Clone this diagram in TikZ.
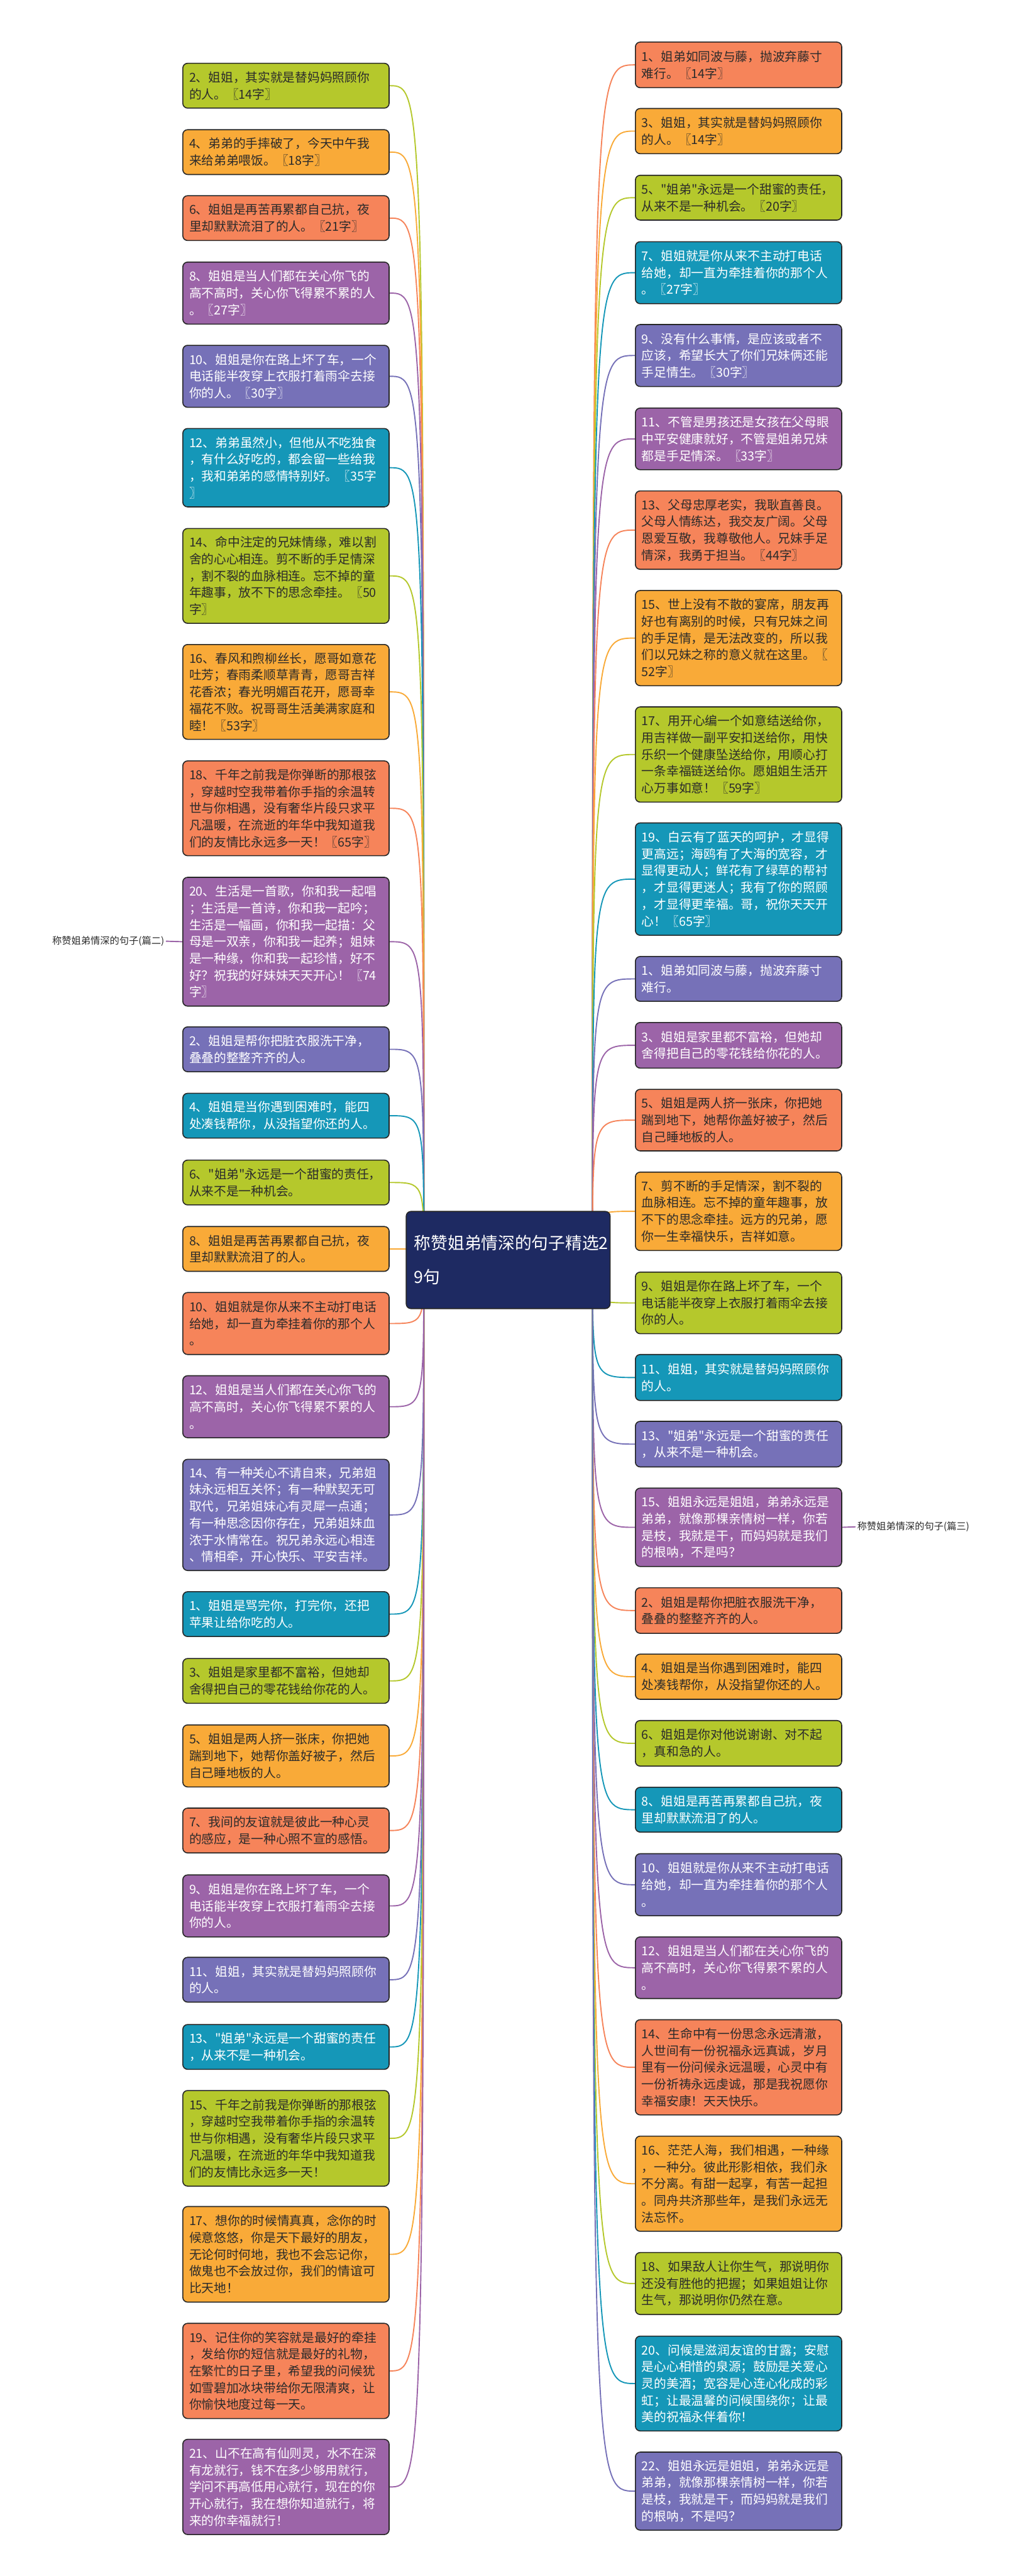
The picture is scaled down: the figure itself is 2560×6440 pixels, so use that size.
\documentclass[tikz,border=0pt]{standalone}
\usepackage{fontspec}
\newfontfamily\cjk{Noto Sans CJK SC}
\usetikzlibrary{backgrounds}

\definecolor{limeleaf}{HTML}{B5C82C}
\definecolor{orangeleaf}{HTML}{F9AA38}
\definecolor{coralleaf}{HTML}{F6845A}
\definecolor{purpleleaf}{HTML}{9C64A8}
\definecolor{violetleaf}{HTML}{7671B8}
\definecolor{tealleaf}{HTML}{1597B8}
\definecolor{titlenavy}{HTML}{1E2A62}
\definecolor{inkdark}{HTML}{2B2B2B}

\tikzset{
  leaf/.style={draw=black!85, line width=2.5pt, rounded corners=12pt, anchor=north west,
    text width=484pt, inner xsep=16pt, inner ysep=0pt, align=left,
    font=\cjk\fontsize{31}{42}\selectfont},
  limebox/.style={leaf, fill=limeleaf, text=inkdark},
  orangebox/.style={leaf, fill=orangeleaf, text=inkdark},
  coralbox/.style={leaf, fill=coralleaf, text=inkdark},
  purplebox/.style={leaf, fill=purpleleaf, text=white},
  violetbox/.style={leaf, fill=violetleaf, text=white},
  tealbox/.style={leaf, fill=tealleaf, text=white},
  parttext/.style={text=inkdark, font=\cjk\fontsize{24}{30}\selectfont, inner sep=4pt},
  link/.style={line width=3pt},
}

\begin{document}
\begin{tikzpicture}[x=1pt,y=-1pt]
\useasboundingbox (0,0) rectangle (2560,6440);

% centre
\node[fill=titlenavy, text=white, rounded corners=12pt, draw=black!85, line width=2.5pt,
  text width=470pt, inner xsep=20pt, inner ysep=0pt, minimum height=243pt, align=left,
  font=\cjk\fontsize{42}{84}\selectfont] (title) at (1271,3150) {称赞姐弟情深的句子精选2\\9句};
\coordinate (hubL) at (1060,3150);
\coordinate (hubR) at (1482,3150);

% left column
\node[limebox, minimum height=112pt] (l1) at (456,157) {2、姐姐，其实就是替妈妈照顾你\\的人。〖14字〗};
\node[orangebox, minimum height=112pt] (l2) at (456,323) {4、弟弟的手摔破了，今天中午我\\来给弟弟喂饭。〖18字〗};
\node[coralbox, minimum height=112pt] (l3) at (456,488) {6、姐姐是再苦再累都自己抗，夜\\里却默默流泪了的人。〖21字〗};
\node[purplebox, minimum height=155pt] (l4) at (456,654) {8、姐姐是当人们都在关心你飞的\\高不高时，关心你飞得累不累的人\\。〖27字〗};
\node[violetbox, minimum height=155pt] (l5) at (456,862) {10、姐姐是你在路上坏了车，一个\\电话能半夜穿上衣服打着雨伞去接\\你的人。〖30字〗};
\node[tealbox, minimum height=196pt] (l6) at (456,1070) {12、弟弟虽然小，但他从不吃独食\\，有什么好吃的，都会留一些给我\\，我和弟弟的感情特别好。〖35字\\〗};
\node[limebox, minimum height=237pt] (l7) at (456,1320) {14、命中注定的兄妹情缘，难以割\\舍的心心相连。剪不断的手足情深\\，割不裂的血脉相连。忘不掉的童\\年趣事，放不下的思念牵挂。〖50\\字〗};
\node[orangebox, minimum height=237pt] (l8) at (456,1610) {16、春风和煦柳丝长，愿哥如意花\\吐芳；春雨柔顺草青青，愿哥吉祥\\花香浓；春光明媚百花开，愿哥幸\\福花不败。祝哥哥生活美满家庭和\\睦！〖53字〗};
\node[coralbox, minimum height=237pt] (l9) at (456,1901) {18、千年之前我是你弹断的那根弦\\，穿越时空我带着你手指的余温转\\世与你相遇，没有奢华片段只求平\\凡温暖，在流逝的年华中我知道我\\们的友情比永远多一天！〖65字〗};
\node[purplebox, minimum height=322pt] (l10) at (456,2192) {20、生活是一首歌，你和我一起唱\\；生活是一首诗，你和我一起吟；\\生活是一幅画，你和我一起描：父\\母是一双亲，你和我一起养；姐妹\\是一种缘，你和我一起珍惜，好不\\好？祝我的好妹妹天天开心！〖74\\字〗};
\node[violetbox, minimum height=112pt] (l11) at (456,2566) {2、姐姐是帮你把脏衣服洗干净，\\叠叠的整整齐齐的人。};
\node[tealbox, minimum height=112pt] (l12) at (456,2732) {4、姐姐是当你遇到困难时，能四\\处凑钱帮你，从没指望你还的人。};
\node[limebox, minimum height=112pt] (l13) at (456,2899) {6、"姐弟"永远是一个甜蜜的责任，\\从来不是一种机会。};
\node[orangebox, minimum height=112pt] (l14) at (456,3065) {8、姐姐是再苦再累都自己抗，夜\\里却默默流泪了的人。};
\node[coralbox, minimum height=155pt] (l15) at (456,3230) {10、姐姐就是你从来不主动打电话\\给她，却一直为牵挂着你的那个人\\。};
\node[purplebox, minimum height=155pt] (l16) at (456,3438) {12、姐姐是当人们都在关心你飞的\\高不高时，关心你飞得累不累的人\\。};
\node[violetbox, minimum height=278pt] (l17) at (456,3647) {14、有一种关心不请自来，兄弟姐\\妹永远相互关怀；有一种默契无可\\取代，兄弟姐妹心有灵犀一点通；\\有一种思念因你存在，兄弟姐妹血\\浓于水情常在。祝兄弟永远心相连\\、情相牵，开心快乐、平安吉祥。};
\node[tealbox, minimum height=112pt] (l18) at (456,3978) {1、姐姐是骂完你，打完你，还把\\苹果让给你吃的人。};
\node[limebox, minimum height=112pt] (l19) at (456,4145) {3、姐姐是家里都不富裕，但她却\\舍得把自己的零花钱给你花的人。};
\node[orangebox, minimum height=155pt] (l20) at (456,4311) {5、姐姐是两人挤一张床，你把她\\踹到地下，她帮你盖好被子，然后\\自己睡地板的人。};
\node[coralbox, minimum height=112pt] (l21) at (456,4519) {7、我间的友谊就是彼此一种心灵\\的感应，是一种心照不宣的感悟。};
\node[purplebox, minimum height=155pt] (l22) at (456,4686) {9、姐姐是你在路上坏了车，一个\\电话能半夜穿上衣服打着雨伞去接\\你的人。};
\node[violetbox, minimum height=112pt] (l23) at (456,4892) {11、姐姐，其实就是替妈妈照顾你\\的人。};
\node[tealbox, minimum height=112pt] (l24) at (456,5060) {13、"姐弟"永远是一个甜蜜的责任\\，从来不是一种机会。};
\node[limebox, minimum height=239pt] (l25) at (456,5225) {15、千年之前我是你弹断的那根弦\\，穿越时空我带着你手指的余温转\\世与你相遇，没有奢华片段只求平\\凡温暖，在流逝的年华中我知道我\\们的友情比永远多一天！};
\node[orangebox, minimum height=239pt] (l26) at (456,5515) {17、想你的时候情真真，念你的时\\候意悠悠，你是天下最好的朋友，\\无论何时何地，我也不会忘记你，\\做鬼也不会放过你，我们的情谊可\\比天地！};
\node[coralbox, minimum height=238pt] (l27) at (456,5807) {19、记住你的笑容就是最好的牵挂\\，发给你的短信就是最好的礼物，\\在繁忙的日子里，希望我的问候犹\\如雪碧加冰块带给你无限清爽，让\\你愉快地度过每一天。};
\node[purplebox, minimum height=238pt] (l28) at (456,6097) {21、山不在高有仙则灵，水不在深\\有龙就行，钱不在多少够用就行，\\学问不再高低用心就行，现在的你\\开心就行，我在想你知道就行，将\\来的你幸福就行！};

% right column
\node[coralbox, minimum height=114pt] (r1) at (1588,104) {1、姐弟如同波与藤，抛波弃藤寸\\难行。〖14字〗};
\node[orangebox, minimum height=113pt] (r2) at (1588,270) {3、姐姐，其实就是替妈妈照顾你\\的人。〖14字〗};
\node[limebox, minimum height=112pt] (r3) at (1588,437) {5、"姐弟"永远是一个甜蜜的责任，\\从来不是一种机会。〖20字〗};
\node[tealbox, minimum height=155pt] (r4) at (1588,603) {7、姐姐就是你从来不主动打电话\\给她，却一直为牵挂着你的那个人\\。〖27字〗};
\node[violetbox, minimum height=155pt] (r5) at (1588,810) {9、没有什么事情，是应该或者不\\应该，希望长大了你们兄妹俩还能\\手足情生。〖30字〗};
\node[purplebox, minimum height=154pt] (r6) at (1588,1019) {11、不管是男孩还是女孩在父母眼\\中平安健康就好，不管是姐弟兄妹\\都是手足情深。〖33字〗};
\node[coralbox, minimum height=196pt] (r7) at (1588,1226) {13、父母忠厚老实，我耿直善良。\\父母人情练达，我交友广阔。父母\\恩爱互敬，我尊敬他人。兄妹手足\\情深，我勇于担当。〖44字〗};
\node[orangebox, minimum height=238pt] (r8) at (1588,1475) {15、世上没有不散的宴席，朋友再\\好也有离别的时候，只有兄妹之间\\的手足情，是无法改变的，所以我\\们以兄妹之称的意义就在这里。〖\\52字〗};
\node[limebox, minimum height=238pt] (r9) at (1588,1766) {17、用开心编一个如意结送给你，\\用吉祥做一副平安扣送给你，用快\\乐织一个健康坠送给你，用顺心打\\一条幸福链送给你。愿姐姐生活开\\心万事如意！〖59字〗};
\node[tealbox, minimum height=281pt] (r10) at (1588,2056) {19、白云有了蓝天的呵护，才显得\\更高远；海鸥有了大海的宽容，才\\显得更动人；鲜花有了绿草的帮衬\\，才显得更迷人；我有了你的照顾\\，才显得更幸福。哥，祝你天天开\\心！〖65字〗};
\node[violetbox, minimum height=112pt] (r11) at (1588,2390) {1、姐弟如同波与藤，抛波弃藤寸\\难行。};
\node[purplebox, minimum height=114pt] (r12) at (1588,2555) {3、姐姐是家里都不富裕，但她却\\舍得把自己的零花钱给你花的人。};
\node[coralbox, minimum height=154pt] (r13) at (1588,2722) {5、姐姐是两人挤一张床，你把她\\踹到地下，她帮你盖好被子，然后\\自己睡地板的人。};
\node[orangebox, minimum height=196pt] (r14) at (1588,2929) {7、剪不断的手足情深，割不裂的\\血脉相连。忘不掉的童年趣事，放\\不下的思念牵挂。远方的兄弟，愿\\你一生幸福快乐，吉祥如意。};
\node[limebox, minimum height=154pt] (r15) at (1588,3179) {9、姐姐是你在路上坏了车，一个\\电话能半夜穿上衣服打着雨伞去接\\你的人。};
\node[tealbox, minimum height=115pt] (r16) at (1588,3385) {11、姐姐，其实就是替妈妈照顾你\\的人。};
\node[violetbox, minimum height=114pt] (r17) at (1588,3552) {13、"姐弟"永远是一个甜蜜的责任\\，从来不是一种机会。};
\node[purplebox, minimum height=196pt] (r18) at (1588,3719) {15、姐姐永远是姐姐，弟弟永远是\\弟弟，就像那棵亲情树一样，你若\\是枝，我就是干，而妈妈就是我们\\的根呐，不是吗？};
\node[coralbox, minimum height=114pt] (r19) at (1588,3968) {2、姐姐是帮你把脏衣服洗干净，\\叠叠的整整齐齐的人。};
\node[orangebox, minimum height=113pt] (r20) at (1588,4134) {4、姐姐是当你遇到困难时，能四\\处凑钱帮你，从没指望你还的人。};
\node[limebox, minimum height=114pt] (r21) at (1588,4300) {6、姐姐是你对他说谢谢、对不起\\，真和急的人。};
\node[tealbox, minimum height=112pt] (r22) at (1588,4467) {8、姐姐是再苦再累都自己抗，夜\\里却默默流泪了的人。};
\node[violetbox, minimum height=155pt] (r23) at (1588,4633) {10、姐姐就是你从来不主动打电话\\给她，却一直为牵挂着你的那个人\\。};
\node[purplebox, minimum height=154pt] (r24) at (1588,4841) {12、姐姐是当人们都在关心你飞的\\高不高时，关心你飞得累不累的人\\。};
\node[coralbox, minimum height=238pt] (r25) at (1588,5048) {14、生命中有一份思念永远清澈，\\人世间有一份祝福永远真诚，岁月\\里有一份问候永远温暖，心灵中有\\一份祈祷永远虔诚，那是我祝愿你\\幸福安康！天天快乐。};
\node[orangebox, minimum height=238pt] (r26) at (1588,5339) {16、茫茫人海，我们相遇，一种缘\\，一种分。彼此形影相依，我们永\\不分离。有甜一起享，有苦一起担\\。同舟共济那些年，是我们永远无\\法忘怀。};
\node[limebox, minimum height=155pt] (r27) at (1588,5630) {18、如果敌人让你生气，那说明你\\还没有胜他的把握；如果姐姐让你\\生气，那说明你仍然在意。};
\node[tealbox, minimum height=237pt] (r28) at (1588,5839) {20、问候是滋润友谊的甘露；安慰\\是心心相惜的泉源；鼓励是关爱心\\灵的美酒；宽容是心连心化成的彩\\虹；让最温馨的问候围绕你；让最\\美的祝福永伴着你！};
\node[violetbox, minimum height=195pt] (r29) at (1588,6129) {22、姐姐永远是姐姐，弟弟永远是\\弟弟，就像那棵亲情树一样，你若\\是枝，我就是干，而妈妈就是我们\\的根呐，不是吗？};

% part labels
\node[parttext, anchor=east] (part2) at (415,2353) {称赞姐弟情深的句子(篇二)};
\node[parttext, anchor=west] (part3) at (2140,3817) {称赞姐弟情深的句子(篇三)};

\begin{scope}[on background layer]
\fill[white] (0,0) rectangle (2560,6440);
\foreach \n/\c in {l1/limeleaf,l2/orangeleaf,l3/coralleaf,l4/purpleleaf,l5/violetleaf,l6/tealleaf,
  l7/limeleaf,l8/orangeleaf,l9/coralleaf,l10/purpleleaf,l11/violetleaf,l12/tealleaf,
  l13/limeleaf,l14/orangeleaf,l15/coralleaf,l16/purpleleaf,l17/violetleaf,l18/tealleaf,
  l19/limeleaf,l20/orangeleaf,l21/coralleaf,l22/purpleleaf,l23/violetleaf,l24/tealleaf,
  l25/limeleaf,l26/orangeleaf,l27/coralleaf,l28/purpleleaf}
  \draw[link, \c] (hubL) .. controls (hubL |- \n.east) .. (\n.east);
\foreach \n/\c in {r1/coralleaf,r2/orangeleaf,r3/limeleaf,r4/tealleaf,r5/violetleaf,r6/purpleleaf,
  r7/coralleaf,r8/orangeleaf,r9/limeleaf,r10/tealleaf,r11/violetleaf,r12/purpleleaf,
  r13/coralleaf,r14/orangeleaf,r15/limeleaf,r16/tealleaf,r17/violetleaf,r18/purpleleaf,
  r19/coralleaf,r20/orangeleaf,r21/limeleaf,r22/tealleaf,r23/violetleaf,r24/purpleleaf,
  r25/coralleaf,r26/orangeleaf,r27/limeleaf,r28/tealleaf,r29/violetleaf}
  \draw[link, \c] (hubR) .. controls (hubR |- \n.west) .. (\n.west);
\draw[link, purpleleaf] (part2.east) -- (l10.west);
\draw[link, purpleleaf] (r18.east) -- (part3.west);
\end{scope}
\end{tikzpicture}
\end{document}
